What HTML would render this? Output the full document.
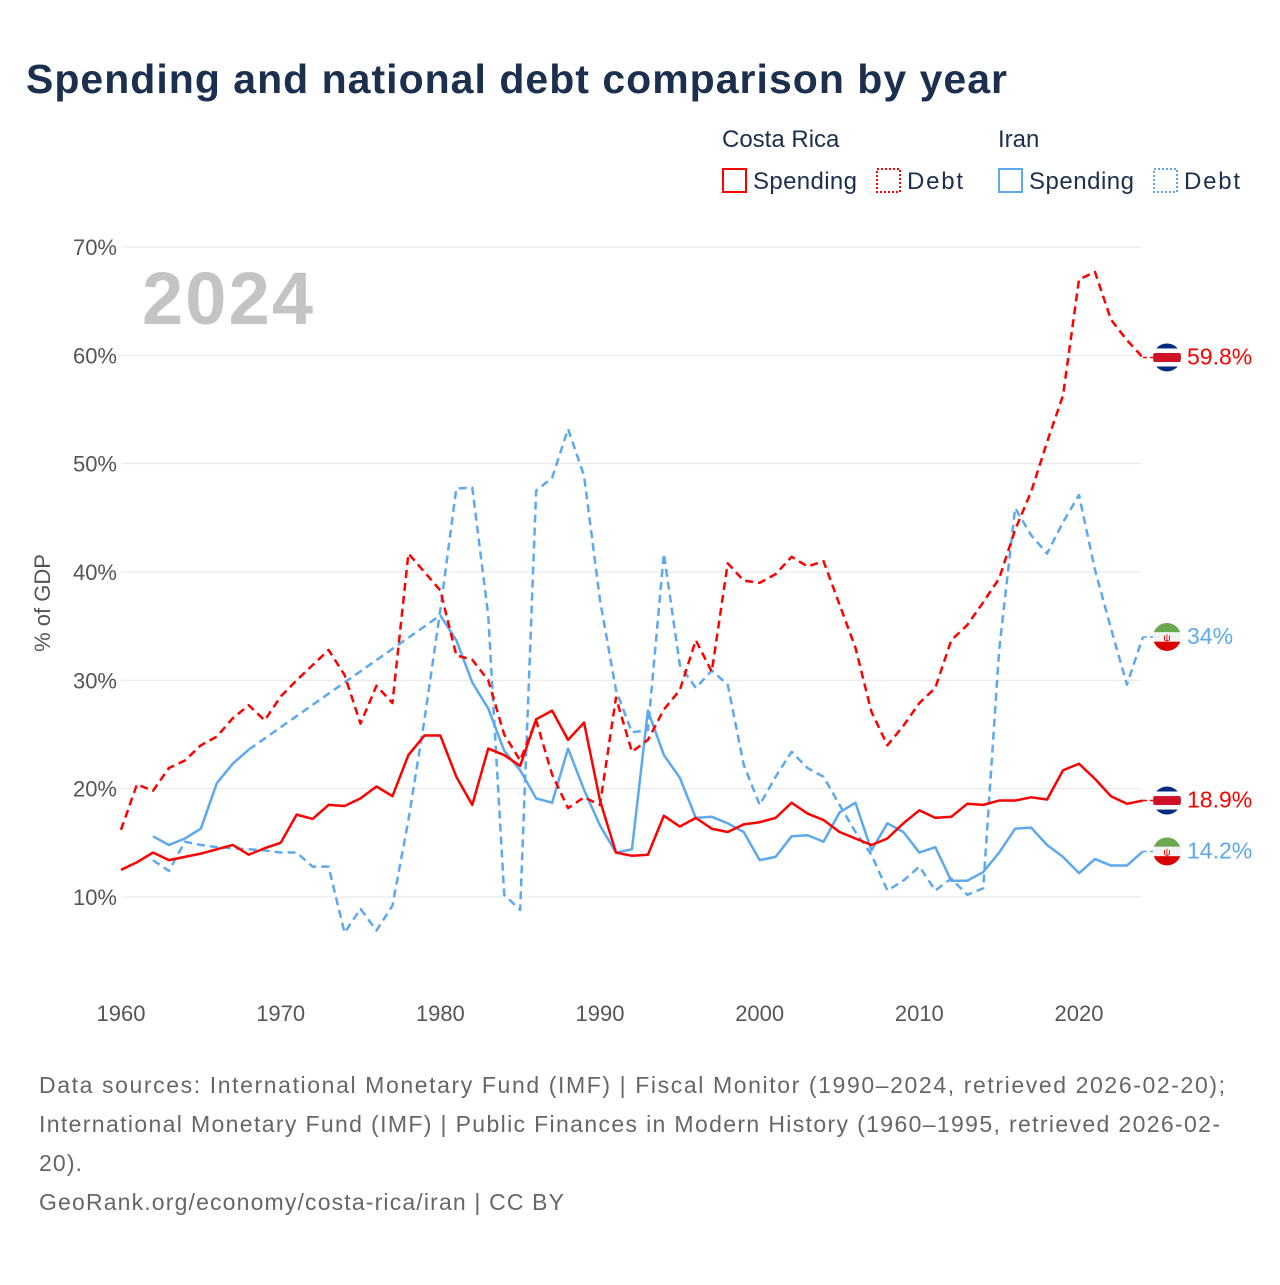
<!DOCTYPE html>
<html><head><meta charset="utf-8">
<style>
body{margin:0;background:#fff;font-family:"Liberation Sans",sans-serif;}
svg text{font-family:"Liberation Sans",sans-serif;}
</style></head>
<body>
<svg id="chart" width="1280" height="1280" viewBox="0 0 1280 1280" xmlns="http://www.w3.org/2000/svg">
<text x="26" y="93" font-size="41" font-weight="bold" fill="#1b2f4e" textLength="981" lengthAdjust="spacing">Spending and national debt comparison by year</text>
<g font-size="24" fill="#1b2f4e">
<text x="722" y="147">Costa Rica</text>
<text x="998" y="147">Iran</text>
<g><rect x="723" y="169" width="23" height="23" fill="none" stroke="#f00" stroke-width="2"/><text x="753" y="189" textLength="104">Spending</text></g>
<g><rect x="877" y="169" width="23" height="23" fill="none" stroke="#f00" stroke-width="2" stroke-dasharray="2,2"/><text x="907" y="189" textLength="56">Debt</text></g>
<g><rect x="999" y="169" width="23" height="23" fill="none" stroke="#5ea8ee" stroke-width="2"/><text x="1029" y="189" textLength="105">Spending</text></g>
<g><rect x="1154" y="169" width="23" height="23" fill="none" stroke="#5ea8ee" stroke-width="2" stroke-dasharray="2,2"/><text x="1184" y="189" textLength="56">Debt</text></g>
</g>
<text x="142" y="324" font-size="74" font-weight="bold" fill="#c4c4c4" textLength="171">2024</text>
<text transform="translate(50,603) rotate(-90)" text-anchor="middle" font-size="22" fill="#555">% of GDP</text>
<g id="grid"></g><g id="series"></g><g id="labels"></g>
<g font-size="23" fill="#666">
<text x="39" y="1093" textLength="1186" lengthAdjust="spacing">Data sources: International Monetary Fund (IMF) | Fiscal Monitor (1990–2024, retrieved 2026-02-20);</text>
<text x="39" y="1132" textLength="1181" lengthAdjust="spacing">International Monetary Fund (IMF) | Public Finances in Modern History (1960–1995, retrieved 2026-02-</text>
<text x="39" y="1171" textLength="43">20).</text>
<text x="39" y="1210" textLength="525" lengthAdjust="spacing">GeoRank.org/economy/costa-rica/iran | CC BY</text>
</g>
</svg>
<script>
const yTicks=[10,20,30,40,50,60,70];
const xTicks=[1960,1970,1980,1990,2000,2010,2020];
const crSpendStart=1960;
const crSpending=[12.5,13.2,14.1,13.4,13.7,14.0,14.4,14.8,13.9,14.5,15.0,17.6,17.2,18.5,18.4,19.1,20.2,19.3,23.1,24.9,24.9,21.1,18.5,23.7,23.1,22.1,26.4,27.2,24.5,26.1,18.9,14.1,13.8,13.9,17.5,16.5,17.3,16.3,16.0,16.7,16.9,17.3,18.7,17.7,17.1,16.0,15.4,14.8,15.4,16.8,18.0,17.3,17.4,18.6,18.5,18.9,18.9,19.2,19.0,21.7,22.3,20.9,19.3,18.6,18.9];
const crDebtStart=1960;
const crDebt=[16.2,20.4,19.8,21.9,22.6,24.0,24.8,26.5,27.7,26.3,28.5,30.0,31.4,32.8,30.5,26.0,29.5,27.9,41.7,40.0,38.3,32.3,31.9,30.0,25.0,22.6,26.3,21.3,18.2,19.2,18.5,28.4,23.4,24.5,27.3,29.1,33.7,30.8,40.8,39.2,39.0,39.8,41.4,40.5,41.0,37.0,33.0,27.1,24.0,25.8,27.9,29.3,33.7,35.1,37.2,39.4,43.9,47.4,52.0,56.3,67.0,67.7,63.3,61.4,59.8];
const irSpendStart=1962;
const irSpending=[15.6,14.8,15.4,16.3,20.5,22.3,23.6,null,null,null,null,null,null,null,null,null,null,null,36.0,33.7,29.8,27.4,23.5,21.7,19.1,18.7,23.7,19.9,16.6,14.1,14.4,27.2,23.1,21.0,17.3,17.4,16.8,16.0,13.4,13.7,15.6,15.7,15.1,17.8,18.7,14.3,16.8,16.0,14.1,14.6,11.5,11.5,12.3,14.1,16.3,16.4,14.8,13.7,12.2,13.5,12.9,12.9,14.2];
const irDebtStart=1962;
const irDebt=[13.4,12.4,15.1,14.8,14.6,14.5,14.4,14.3,14.1,14.1,12.8,12.8,6.7,8.9,6.9,9.2,17.1,26.3,36.5,47.7,47.8,36.0,10.2,8.8,47.5,48.7,53.2,48.9,37.4,29.1,25.2,25.4,41.7,31.4,29.3,30.9,29.6,22.2,18.5,21.1,23.4,21.9,21.1,18.5,16.0,13.9,10.6,11.5,12.8,10.6,11.7,10.2,10.8,32.8,45.9,43.4,41.7,44.6,47.1,40.2,34.8,29.6,34.0];

const NS='http://www.w3.org/2000/svg';
const xS=yr=>121+(yr-1960)*(958/60);
const yS=v=>1005.3-v*10.833;
function mk(tag,attrs,parent){const e=document.createElementNS(NS,tag);for(const k in attrs)e.setAttribute(k,attrs[k]);parent.appendChild(e);return e;}
const grid=document.getElementById('grid'),series=document.getElementById('series'),labels=document.getElementById('labels');
yTicks.forEach(t=>{
 const l=mk('line',{x1:121,x2:1141,y1:yS(t),y2:yS(t),stroke:'#e6e6e6','stroke-width':1},grid);
 
 
 const tx=mk('text',{x:117,y:yS(t)+8,'text-anchor':'end','font-size':22,fill:'#555'},grid);
 tx.textContent=t+'%';
 
 
});
xTicks.forEach(t=>{
 const tx=mk('text',{x:xS(t),y:1021,'text-anchor':'middle','font-size':22,fill:'#555'},grid);
 tx.textContent=t;
 
 
});
function draw(vals,start,color,dashed,name){
 const segs=[];let cur=[];let lastValid=null;const gaps=[];
 vals.forEach((v,i)=>{const yr=start+i;
  if(v==null){if(cur.length)segs.push(cur);cur=[];}
  else{ if(cur.length===0&&lastValid&&lastValid.yr!==yr-1)gaps.push([lastValid,{yr,v}]); cur.push([xS(yr),yS(v)]); lastValid={yr,v};}
 });
 if(cur.length)segs.push(cur);
 segs.forEach(s=>{
  const p=mk('polyline',{points:s.map(q=>q.join(',')).join(' '),fill:'none',stroke:color,'stroke-width':2.5,'stroke-linejoin':'round'},series);
  if(dashed)p.setAttribute('stroke-dasharray','8,5');
  
  
 });
 gaps.forEach(g=>{
  const p=mk('line',{x1:xS(g[0].yr),y1:yS(g[0].v),x2:xS(g[1].yr),y2:yS(g[1].v),stroke:color,'stroke-width':2.5,'stroke-dasharray':'8,5'},series);
  
  
 });
}
draw(irDebt,irDebtStart,'#5ea8ee',true,'iran-debt-line');
draw(irSpending,irSpendStart,'#5ea8ee',false,'iran-spending-line');
draw(crDebt,crDebtStart,'#f00',true,'costa-rica-debt-line');
draw(crSpending,crSpendStart,'#f00',false,'costa-rica-spending-line');
function flag(cx,cy,type,name){
 const g=mk('g',{},labels);
 
 
 const id='c'+Math.round(cy);
 const cp=mk('clipPath',{id:id},g);mk('circle',{cx:cx,cy:cy,r:14},cp);
 const inner=mk('g',{'clip-path':'url(#'+id+')'},g);
 let bands=type==='cr'?[['#002b7f',5],['#fff',4.5],['#ce1126',9],['#fff',4.5],['#002b7f',5]]:[['#6aa84f',9.3],['#f2f2f2',9.4],['#da0000',9.3]];
 let y=cy-14;bands.forEach(b=>{mk('rect',{x:cx-14,y:y,width:28,height:b[1],fill:b[0]},inner);y+=b[1];});
 if(type==='ir')mk('text',{x:cx,y:cy+4,'text-anchor':'middle','font-size':10,fill:'#da0000'},inner).textContent='ψ';
}
function endLabel(vals,start,color,type,name){
 const i=vals.length-1,v=vals[i];const cy=yS(v);
 mk('line',{x1:xS(start+i),x2:1153,y1:cy,y2:cy,stroke:color,'stroke-width':1.5,'stroke-dasharray':'4,3'},labels);
 flag(1167,cy,type,name+'-flag');
 const t=mk('text',{x:1187,y:cy+7,'font-size':23,fill:color},labels);
 t.textContent=(Math.round(v*10)/10)+'%';
 
 
}
endLabel(crDebt,crDebtStart,'#f00','cr','cr-debt');
endLabel(irDebt,irDebtStart,'#5ea8ee','ir','ir-debt');
endLabel(crSpending,crSpendStart,'#f00','cr','cr-spending');
endLabel(irSpending,irSpendStart,'#5ea8ee','ir','ir-spending');
</script>
</body></html>
